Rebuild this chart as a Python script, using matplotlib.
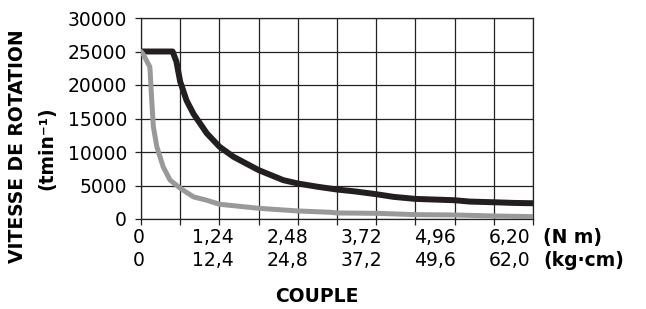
import matplotlib
matplotlib.use("Agg")
import matplotlib.pyplot as plt

plt.rcParams['font.family'] = ['DejaVu Sans']

# couple (N m) / vitesse (tr/min)
black_x = [0, 0.50, 0.56, 0.62, 0.72, 0.83, 1.04, 1.24, 1.46, 1.86, 2.25, 2.48,
           2.8, 3.1, 3.4, 3.72, 4.0, 4.34, 4.65, 4.96, 5.2, 5.58, 5.9, 6.2]
black_y = [25000, 25000, 23500, 20500, 17700, 15700, 12800, 10800, 9300, 7300, 5800, 5300,
           4800, 4400, 4100, 3700, 3300, 3000, 2900, 2800, 2600, 2500, 2400, 2350]

gray_x = [0, 0.04, 0.14, 0.17, 0.195, 0.25, 0.35, 0.46, 0.62, 0.83, 1.04, 1.24,
          1.55, 1.86, 2.48, 3.0, 3.1, 3.72, 4.34, 4.96, 5.58, 6.2]
gray_y = [25000, 24500, 22700, 17700, 13800, 10800, 7800, 5800, 4600, 3300, 2800, 2200,
          1900, 1600, 1200, 1000, 900, 850, 650, 600, 450, 350]

nm_labels = ['0', '1,24', '2,48', '3,72', '4,96', '6,20']
kgcm_labels = ['0', '12,4', '24,8', '37,2', '49,6', '62,0']
y_ticks = [0, 5000, 10000, 15000, 20000, 25000, 30000]

fig = plt.figure(figsize=(6.46, 3.09), dpi=100)
ax = fig.add_axes([141 / 646, 1 - 219 / 309, 392 / 646, 201 / 309])

ax.plot(black_x, black_y, color='#231f20', lw=4.3, solid_capstyle='round',
        solid_joinstyle='round', zorder=3)
ax.plot(gray_x, gray_y, color='#999999', lw=3.6, solid_capstyle='round',
        solid_joinstyle='round', zorder=3)

ax.set_xlim(0, 6.2)
ax.set_ylim(0, 30000)
ax.set_xticks([i * 0.62 for i in range(11)])
ax.set_xticklabels([])
ax.set_yticks(y_ticks)
ax.set_yticklabels([str(v) for v in y_ticks], fontsize=13.5)
ax.tick_params(axis='both', direction='out', length=4, width=0.9, color='#222222', pad=6)
ax.grid(True, color='#222222', lw=0.9)
for s in ax.spines.values():
    s.set_color('#222222')
    s.set_linewidth(0.9)

# two rows of torque labels
for i in range(len(nm_labels)):
    xf = i * 0.189 - 0.005
    ax.text(xf, -0.09, nm_labels[i], transform=ax.transAxes, ha='center', va='center', fontsize=13.5)
    ax.text(xf, -0.204, kgcm_labels[i], transform=ax.transAxes, ha='center', va='center', fontsize=13.5)
ax.text(1.026, -0.09, '(N m)', transform=ax.transAxes, ha='left', va='center',
        fontsize=13.5, fontweight='bold')
ax.text(1.026, -0.204, '(kg\u00b7cm)', transform=ax.transAxes, ha='left', va='center',
        fontsize=13.5, fontweight='bold')

fig.text(317 / 646, 1 - 297 / 309, 'COUPLE', ha='center', va='center', fontsize=13.5, fontweight='bold')
fig.text(18 / 646, 1 - 146 / 309, 'VITESSE DE ROTATION', rotation=90, ha='center', va='center',
         fontsize=13.5, fontweight='bold')
fig.text(47 / 646, 1 - 148 / 309, '(tmin\u207b\u00b9)', rotation=90, ha='center', va='center',
         fontsize=13.5, fontweight='bold')

fig.savefig('out.png', dpi=100)
